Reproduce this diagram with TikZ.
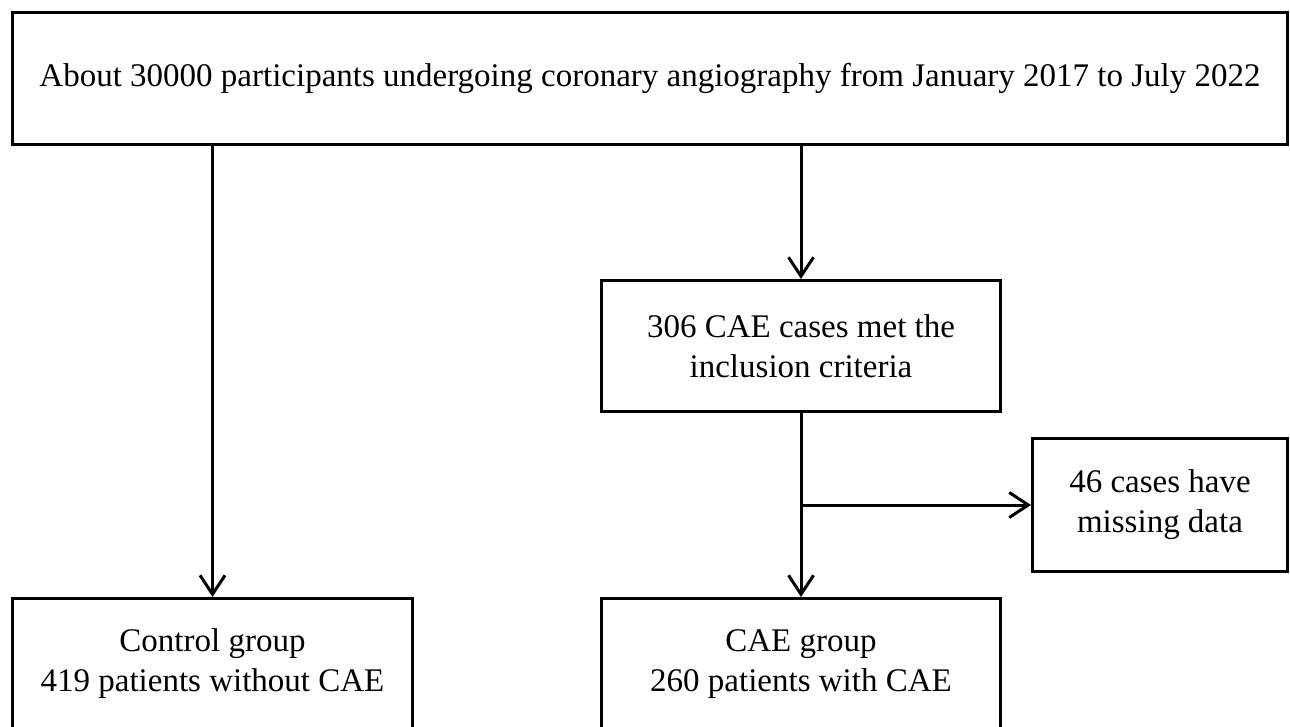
\documentclass[tikz,border=0pt]{standalone}
\usepackage{fontspec}
\setmainfont{Liberation Serif}
\usetikzlibrary{arrows.meta}

\begin{document}
\begin{tikzpicture}[x=1pt,y=-1pt,
  box/.style={draw, line width=3pt, inner sep=0pt, align=center,
    font=\fontsize{33}{40}\selectfont},
  link/.style={line width=3pt, -{Straight Barb[length=19pt,width=25pt,line width=3pt]}}]

\clip (0,0) rectangle (1290,727);

\node[box, minimum width=1275pt, minimum height=132pt] (start) at (650,78.5)
  {About 30000 participants undergoing coronary angiography from January 2017 to July 2022};

\node[box, minimum width=399pt, minimum height=131pt] (incl) at (801,346)
  {306 CAE cases met the\\inclusion criteria};

\node[box, minimum width=255pt, minimum height=133pt] (miss) at (1160,505)
  {46 cases have\\missing data};

\node[box, minimum width=400pt, minimum height=131pt] (ctrl) at (212.5,664)
  {Control group\\419 patients without CAE};

\node[box, minimum width=399pt, minimum height=131pt] (cae) at (801,664)
  {CAE group\\260 patients with CAE};

\coordinate (split) at (incl.south |- miss.west);

\draw[link] (start.south -| ctrl.north) -- (ctrl.north);
\draw[link] (start.south -| incl.north) -- (incl.north);
\draw[link] (incl.south) -- (cae.north);
\draw[link] (split) -- (miss.west);
\end{tikzpicture}
\end{document}
